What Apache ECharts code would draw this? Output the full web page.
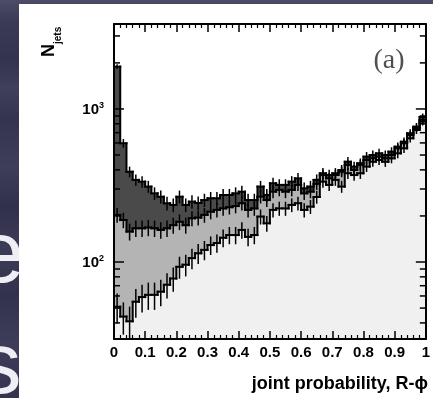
<!DOCTYPE html>
<html>
<head>
<meta charset="utf-8">
<script src="https://cdn.jsdelivr.net/npm/echarts@6/dist/echarts.min.js"></script>
<style>
  html, body { margin: 0; padding: 0; background: #383853; }
  #chart { width: 433px; height: 398px; }
</style>
</head>
<body>
<div id="chart"></div>
<script>
// Histogram of jets vs. joint probability (R-phi), 50 bins of width 0.02
const BIN_WIDTH = 0.02;
const binStarts = [
  0.00, 0.02, 0.04, 0.06, 0.08, 0.10, 0.12, 0.14, 0.16, 0.18,
  0.20, 0.22, 0.24, 0.26, 0.28, 0.30, 0.32, 0.34, 0.36, 0.38,
  0.40, 0.42, 0.44, 0.46, 0.48, 0.50, 0.52, 0.54, 0.56, 0.58,
  0.60, 0.62, 0.64, 0.66, 0.68, 0.70, 0.72, 0.74, 0.76, 0.78,
  0.80, 0.82, 0.84, 0.86, 0.88, 0.90, 0.92, 0.94, 0.96, 0.98
];

// Stacked totals: all jets (dark band on top)
const totalCounts = [
  1890, 597, 389, 344, 335, 311, 281, 267, 242, 236,
  267, 236, 248, 243, 254, 261, 261, 274, 274, 281,
  288, 254, 254, 311, 274, 327, 319, 319, 335, 352,
  303, 311, 344, 380, 370, 380, 399, 452, 420, 442,
  488, 500, 513, 500, 526, 567, 611, 694, 766, 887
];
// Middle component (medium grey band)
const middleCounts = [
  203, 188, 158, 166, 166, 168, 166, 162, 166, 174,
  183, 174, 193, 195, 203, 213, 219, 224, 228, 232,
  242, 219, 224, 267, 254, 288, 296, 288, 296, 319,
  281, 288, 324, 370, 352, 370, 389, 431, 399, 431,
  464, 476, 488, 476, 500, 553, 597, 676, 748, 848
];
// Lowest component (light grey band)
const lowerCounts = [
  51, 44, 41, 55, 59, 61, 61, 64, 71, 78,
  93, 96, 106, 114, 120, 129, 133, 144, 150, 150,
  162, 146, 150, 198, 179, 219, 224, 224, 236, 242,
  219, 230, 266, 335, 319, 344, 311, 380, 370, 380,
  420, 452, 464, 452, 476, 513, 553, 643, 729, 826
];

const xTickLabels = ['0', '0.1', '0.2', '0.3', '0.4', '0.5', '0.6', '0.7', '0.8', '0.9', '1'];
const yMajorTicks = [100, 1000];
const yMajorLabels = ['10', '10'];
const yMajorExponents = ['2', '3'];
const yMinorTicks = [40, 50, 60, 70, 80, 90, 200, 300, 400, 500, 600, 700, 800, 900, 2000, 3000];

const X_MIN = 0, X_MAX = 1;
const Y_MIN = 31.4, Y_MAX = 3590;
// weighted-event statistics for the error bars
const EVENT_WEIGHT = 2.5;

const FONT = "'Liberation Sans', Arial, sans-serif";

function fillRenderer(color) {
  return function (params, api) {
    const x0 = api.value(0);
    const v = api.value(1);
    const p0 = api.coord([x0, v]);
    const p1 = api.coord([x0 + BIN_WIDTH, Y_MIN]);
    // snap to whole pixels so neighbouring bins join without seams
    const left = Math.round(p0[0]);
    const right = Math.round(p1[0]);
    return {
      type: 'rect',
      shape: { x: left, y: p0[1], width: right - left, height: p1[1] - p0[1] },
      style: { fill: color }
    };
  };
}

function outlineRenderer(counts) {
  return function (params, api) {
    const i = params.dataIndex;
    const x0 = api.value(0);
    const v = api.value(1);
    const a = api.coord([x0, v]);
    const b = api.coord([x0 + BIN_WIDTH, v]);
    const line = { stroke: '#000', lineWidth: 2, lineCap: 'square' };
    const children = [
      { type: 'line', shape: { x1: a[0], y1: a[1], x2: b[0], y2: b[1] }, style: line }
    ];
    if (i < counts.length - 1) {
      const c = api.coord([x0 + BIN_WIDTH, counts[i + 1]]);
      children.push({ type: 'line', shape: { x1: b[0], y1: b[1], x2: c[0], y2: c[1] }, style: line });
    }
    const err = Math.sqrt(EVENT_WEIGHT * v);
    const xc = x0 + BIN_WIDTH / 2;
    const e1 = api.coord([xc, v + err]);
    const e2 = api.coord([xc, Math.max(v - err, Y_MIN)]);
    children.push({
      type: 'line',
      shape: { x1: e1[0], y1: e1[1], x2: e2[0], y2: e2[1] },
      style: { stroke: '#000', lineWidth: 1.5 }
    });
    return { type: 'group', children: children };
  };
}

function yTickRenderer(params, api) {
  const v = api.value(1);
  const len = api.value(2) ? 10 : 6;
  const l = api.coord([X_MIN, v]);
  const r = api.coord([X_MAX, v]);
  const st = { stroke: '#000', lineWidth: 1.5 };
  return {
    type: 'group',
    children: [
      { type: 'line', shape: { x1: l[0], y1: l[1], x2: l[0] + len, y2: l[1] }, style: st },
      { type: 'line', shape: { x1: r[0], y1: r[1], x2: r[0] - len, y2: r[1] }, style: st }
    ]
  };
}

function pairs(counts) {
  return counts.map((c, i) => [binStarts[i], c]);
}

const yTickData = yMajorTicks.map(v => [0, v, 1]).concat(yMinorTicks.map(v => [0, v, 0]));

const xAxisBase = {
  type: 'value',
  min: X_MIN,
  max: X_MAX,
  interval: 0.1,
  z: 10,
  axisLine: { show: true, onZero: false, lineStyle: { color: '#000', width: 2 } },
  axisTick: { show: true, inside: true, length: 8, lineStyle: { color: '#000', width: 1.5 } },
  minorTick: { show: true, splitNumber: 5, length: 4, lineStyle: { color: '#000', width: 1.2 } },
  splitLine: { show: false },
  minorSplitLine: { show: false }
};

const yAxisBase = {
  type: 'log',
  logBase: 10,
  min: Y_MIN,
  max: Y_MAX,
  z: 10,
  axisLine: { show: true, onZero: false, lineStyle: { color: '#000', width: 2 } },
  axisTick: { show: false },
  splitLine: { show: false }
};

const chart = echarts.init(document.getElementById('chart'), null, { renderer: 'canvas' });

chart.setOption({
  backgroundColor: 'transparent',
  animation: false,
  grid: { left: 114, right: 7, top: 24, bottom: 59, containLabel: false },
  xAxis: [
    Object.assign({}, xAxisBase, {
      position: 'bottom',
      axisLabel: {
        show: true,
        margin: 6,
        color: '#000',
        fontFamily: FONT,
        fontWeight: 'bold',
        fontSize: 15,
        formatter: v => xTickLabels[Math.round(v * 10)] || ''
      }
    }),
    Object.assign({}, xAxisBase, { position: 'top', axisLabel: { show: false } })
  ],
  yAxis: [
    Object.assign({}, yAxisBase, {
      position: 'left',
      axisLabel: {
        show: true,
        margin: 10,
        color: '#000',
        fontFamily: FONT,
        fontWeight: 'bold',
        fontSize: 15,
        showMinLabel: false,
        showMaxLabel: false,
        formatter: function (v) {
          const k = yMajorTicks.findIndex(t => Math.abs(t - v) / t < 1e-6);
          return k < 0 ? '' : '{base|' + yMajorLabels[k] + '}{exp|' + yMajorExponents[k] + '}';
        },
        rich: {
          base: { fontFamily: FONT, fontWeight: 'bold', fontSize: 15, color: '#000', lineHeight: 16, verticalAlign: 'bottom' },
          exp: { fontFamily: FONT, fontWeight: 'bold', fontSize: 9, color: '#000', lineHeight: 16, verticalAlign: 'top' }
        }
      }
    }),
    Object.assign({}, yAxisBase, { position: 'right', axisLabel: { show: false } })
  ],
  graphic: [
    // slide backdrop
    {
      type: 'rect', z: -10, shape: { x: 0, y: 0, width: 433, height: 398 },
      style: {
        fill: new echarts.graphic.LinearGradient(0, 0, 0, 1, [
          { offset: 0.00, color: '#4c4c68' },
          { offset: 0.05, color: '#3b3b57' },
          { offset: 0.15, color: '#33334e' },
          { offset: 0.22, color: '#40405c' },
          { offset: 0.30, color: '#34344f' },
          { offset: 0.42, color: '#3e3e5a' },
          { offset: 0.52, color: '#30304b' },
          { offset: 0.62, color: '#3c3c58' },
          { offset: 0.74, color: '#32324d' },
          { offset: 0.86, color: '#3d3d59' },
          { offset: 1.00, color: '#34344f' }
        ])
      }
    },
    {
      type: 'text', z: -9, x: -24, y: 258,
      style: { text: 'e', fontFamily: FONT, fontSize: 87, fill: '#eeeef4', verticalAlign: 'middle' }
    },
    {
      type: 'text', z: -9, x: -22, y: 369,
      style: { text: 's', fontFamily: FONT, fontSize: 87, fill: '#eeeef4', verticalAlign: 'middle' }
    },
    // white figure panel
    {
      type: 'rect', z: -8, shape: { x: 19, y: 4, width: 414, height: 394 },
      style: { fill: '#ffffff' }
    },
    // axis titles and panel tag
    {
      type: 'text', z: 20, x: 58, y: 57, rotation: Math.PI / 2,
      style: { text: 'N', fontFamily: FONT, fontWeight: 'bold', fontSize: 18, fill: '#000', align: 'left', verticalAlign: 'bottom' }
    },
    {
      type: 'text', z: 20, x: 63, y: 44, rotation: Math.PI / 2,
      style: { text: 'jets', fontFamily: FONT, fontWeight: 'bold', fontSize: 10, fill: '#000', align: 'left', verticalAlign: 'bottom' }
    },
    {
      type: 'text', z: 20, x: 428, y: 384,
      style: { text: 'joint probability, R-ϕ', fontFamily: FONT, fontWeight: 'bold', fontSize: 18, fill: '#000', align: 'right', verticalAlign: 'middle' }
    },
    {
      type: 'text', z: 20, x: 389, y: 61,
      style: { text: '(a)', fontFamily: "'Liberation Serif', 'DejaVu Serif', serif", fontSize: 28, fill: '#505050', align: 'center', verticalAlign: 'middle' }
    }
  ],
  series: [
    { type: 'custom', name: 'all', clip: true, z: 2, data: pairs(totalCounts), encode: { x: 0, y: 1 }, renderItem: fillRenderer('#4a4a4a') },
    { type: 'custom', name: 'middle', clip: true, z: 2, data: pairs(middleCounts), encode: { x: 0, y: 1 }, renderItem: fillRenderer('#b4b4b4') },
    { type: 'custom', name: 'lower', clip: true, z: 2, data: pairs(lowerCounts), encode: { x: 0, y: 1 }, renderItem: fillRenderer('#f0f0f0') },
    { type: 'custom', name: 'all outline', clip: true, z: 3, data: pairs(totalCounts), encode: { x: 0, y: 1 }, renderItem: outlineRenderer(totalCounts) },
    { type: 'custom', name: 'middle outline', clip: true, z: 3, data: pairs(middleCounts), encode: { x: 0, y: 1 }, renderItem: outlineRenderer(middleCounts) },
    { type: 'custom', name: 'lower outline', clip: true, z: 3, data: pairs(lowerCounts), encode: { x: 0, y: 1 }, renderItem: outlineRenderer(lowerCounts) },
    { type: 'custom', name: 'y ticks', clip: false, z: 11, data: yTickData, encode: { x: 0, y: 1 }, renderItem: yTickRenderer }
  ]
});
</script>
</body>
</html>
